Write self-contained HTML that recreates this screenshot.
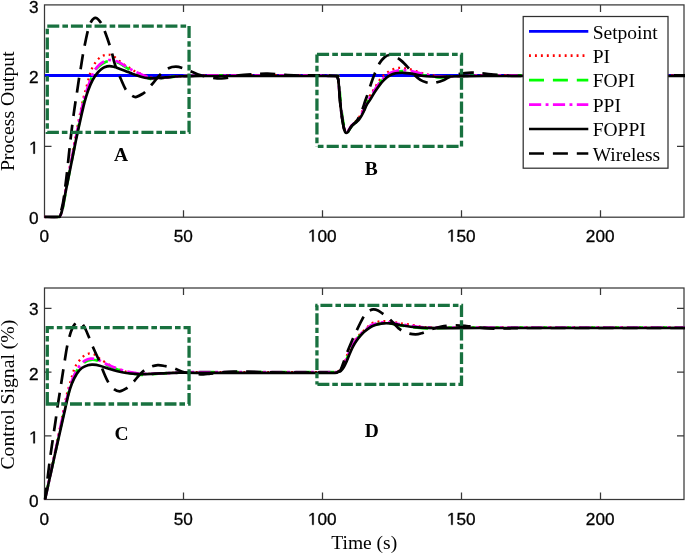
<!DOCTYPE html>
<html><head><meta charset="utf-8"><title>Chart</title>
<style>html,body{margin:0;padding:0;background:#fff}svg{display:block;will-change:transform;opacity:0.9999}text{fill:#000}</style></head>
<body>
<svg width="685" height="553" viewBox="0 0 685 553">
<defs><clipPath id="c1"><rect x="43.50" y="3.90" width="641.50" height="214.50"/></clipPath><clipPath id="c2"><rect x="43.50" y="287.00" width="641.50" height="213.70"/></clipPath></defs>
<rect width="685" height="553" fill="#fff"/>
<rect x="44.50" y="4.90" width="639.50" height="212.30" fill="none" stroke="#383838" stroke-width="1.25"/><path d="M183.50 217.20 v-7.00 M183.50 4.90 v7.00" stroke="#383838" stroke-width="1.25"/><path d="M322.50 217.20 v-7.00 M322.50 4.90 v7.00" stroke="#383838" stroke-width="1.25"/><path d="M461.50 217.20 v-7.00 M461.50 4.90 v7.00" stroke="#383838" stroke-width="1.25"/><path d="M600.50 217.20 v-7.00 M600.50 4.90 v7.00" stroke="#383838" stroke-width="1.25"/><path d="M44.50 146.43 h7.00 M684.00 146.43 h-7.00" stroke="#383838" stroke-width="1.25"/><path d="M44.50 75.66 h7.00 M684.00 75.66 h-7.00" stroke="#383838" stroke-width="1.25"/>
<g clip-path="url(#c1)">
<path d="M44.90 75.51 H686.00" stroke="#0000ff" stroke-width="3.0" fill="none"/>
<path d="M44.50 217.00 C46.80 217.00 55.78 217.10 58.30 217.00 C60.82 216.90 59.18 216.83 59.60 216.40 C60.02 215.97 60.37 215.70 60.80 214.40 C61.23 213.10 61.63 211.50 62.20 208.60 C62.77 205.70 63.43 201.27 64.20 197.00 C64.97 192.73 65.92 187.75 66.80 183.00 C67.68 178.25 68.60 173.33 69.50 168.50 C70.40 163.67 71.30 158.75 72.20 154.00 C73.10 149.25 74.03 144.50 74.90 140.00 C75.77 135.50 76.57 131.25 77.40 127.00 C78.23 122.75 78.92 119.28 79.90 114.50 C80.88 109.72 82.28 102.58 83.30 98.30 C84.32 94.02 84.98 92.53 86.00 88.80 C87.02 85.07 88.50 79.07 89.40 75.90 C90.30 72.73 90.60 71.72 91.40 69.80 C92.20 67.88 93.18 66.05 94.20 64.40 C95.22 62.75 96.15 61.30 97.50 59.90 C98.85 58.50 100.60 56.88 102.30 56.00 C104.00 55.12 105.90 54.60 107.70 54.60 C109.50 54.60 111.30 55.05 113.10 56.00 C114.90 56.95 116.68 58.90 118.50 60.30 C120.32 61.70 122.18 63.15 124.00 64.40 C125.82 65.65 127.32 66.52 129.40 67.80 C131.48 69.08 133.85 70.80 136.50 72.10 C139.15 73.40 143.12 74.75 145.30 75.60 C147.48 76.45 147.82 76.75 149.60 77.20 C151.38 77.65 153.27 78.25 156.00 78.30 C158.73 78.35 162.67 77.80 166.00 77.50 C169.33 77.20 172.33 76.77 176.00 76.50 C179.67 76.23 184.00 76.07 188.00 75.90 C192.00 75.73 193.00 75.60 200.00 75.50 C207.00 75.40 213.33 75.33 230.00 75.30 C246.67 75.27 282.45 75.18 300.00 75.30 C317.55 75.42 329.20 75.93 335.30 76.00 C341.40 76.07 336.22 75.52 336.60 75.70 C336.98 75.88 337.32 76.50 337.60 77.10 C337.88 77.70 338.05 77.43 338.30 79.30 C338.55 81.17 338.80 84.70 339.10 88.30 C339.40 91.90 339.72 96.90 340.10 100.90 C340.48 104.90 340.97 108.92 341.40 112.30 C341.83 115.68 342.28 118.67 342.70 121.20 C343.12 123.73 343.48 125.82 343.90 127.50 C344.32 129.18 344.77 130.50 345.20 131.30 C345.63 132.10 346.03 132.30 346.50 132.30 C346.97 132.30 347.48 131.93 348.00 131.30 C348.52 130.67 349.02 129.45 349.60 128.50 C350.18 127.55 350.75 126.50 351.50 125.60 C352.25 124.70 353.35 123.87 354.10 123.10 C354.85 122.33 355.30 121.77 356.00 121.00 C356.70 120.23 357.53 119.57 358.30 118.50 C359.07 117.43 359.82 116.10 360.60 114.60 C361.38 113.10 362.20 111.30 363.00 109.50 C363.80 107.70 364.63 105.40 365.40 103.80 C366.17 102.20 366.65 101.57 367.60 99.90 C368.55 98.23 369.93 95.78 371.10 93.80 C372.27 91.82 373.28 90.13 374.60 88.00 C375.92 85.87 377.53 83.07 379.00 81.00 C380.47 78.93 382.07 77.00 383.40 75.60 C384.73 74.20 385.73 73.50 387.00 72.60 C388.27 71.70 389.50 70.90 391.00 70.20 C392.50 69.50 394.33 68.80 396.00 68.40 C397.67 68.00 399.25 67.80 401.00 67.80 C402.75 67.80 404.67 68.07 406.50 68.40 C408.33 68.73 410.08 69.23 412.00 69.80 C413.92 70.37 416.00 71.17 418.00 71.80 C420.00 72.43 421.88 73.03 424.00 73.60 C426.12 74.17 428.03 74.77 430.70 75.20 C433.37 75.63 436.78 76.02 440.00 76.20 C443.22 76.38 445.83 76.33 450.00 76.30 C454.17 76.27 459.35 76.17 465.00 76.00 C470.65 75.83 468.07 75.42 483.90 75.30 C499.73 75.18 526.48 75.30 560.00 75.30 C593.52 75.30 664.17 75.30 685.00 75.30" fill="none" stroke="#ff0000" stroke-width="2.3" stroke-linejoin="round" stroke-linecap="butt" stroke-dasharray="1.9 4.05" stroke-dashoffset="0"/>
<path d="M44.90 217.00 C47.20 217.00 56.18 217.10 58.70 217.00 C61.22 216.90 59.58 216.82 60.00 216.40 C60.42 215.98 60.76 215.73 61.20 214.50 C61.64 213.27 62.06 211.85 62.65 209.00 C63.24 206.15 63.96 201.70 64.75 197.40 C65.54 193.10 66.49 187.98 67.40 183.20 C68.31 178.42 69.27 173.53 70.20 168.70 C71.13 163.87 72.07 158.98 73.00 154.20 C73.93 149.42 74.90 144.53 75.80 140.00 C76.70 135.47 77.42 131.87 78.40 127.00 C79.38 122.13 80.58 115.82 81.70 110.80 C82.82 105.78 83.63 101.92 85.10 96.90 C86.57 91.88 89.15 84.53 90.50 80.70 C91.85 76.87 92.30 75.83 93.20 73.90 C94.10 71.97 94.77 70.50 95.90 69.10 C97.03 67.70 98.65 66.55 100.00 65.50 C101.35 64.45 102.65 63.52 104.00 62.80 C105.35 62.08 106.73 61.43 108.10 61.20 C109.47 60.97 110.50 61.13 112.20 61.40 C113.90 61.67 116.50 62.12 118.30 62.80 C120.10 63.48 121.08 64.37 123.00 65.50 C124.92 66.63 127.48 68.28 129.80 69.60 C132.12 70.92 134.25 72.15 136.90 73.40 C139.55 74.65 143.45 76.18 145.70 77.10 C147.95 78.02 148.62 78.50 150.40 78.90 C152.18 79.30 153.73 79.73 156.40 79.50 C159.07 79.27 163.07 78.00 166.40 77.50 C169.73 77.00 172.73 76.77 176.40 76.50 C180.07 76.23 184.40 76.07 188.40 75.90 C192.40 75.73 193.40 75.60 200.40 75.50 C207.40 75.40 213.73 75.33 230.40 75.30 C247.07 75.27 282.85 75.18 300.40 75.30 C317.95 75.42 329.60 75.93 335.70 76.00 C341.80 76.07 336.62 75.52 337.00 75.70 C337.38 75.88 337.72 76.50 338.00 77.10 C338.28 77.70 338.45 77.43 338.70 79.30 C338.95 81.17 339.20 84.70 339.50 88.30 C339.80 91.90 340.12 96.90 340.50 100.90 C340.88 104.90 341.37 108.92 341.80 112.30 C342.23 115.68 342.68 118.67 343.10 121.20 C343.52 123.73 343.88 125.82 344.30 127.50 C344.72 129.18 345.17 130.50 345.60 131.30 C346.03 132.10 346.43 132.30 346.90 132.30 C347.37 132.30 347.88 131.93 348.40 131.30 C348.92 130.67 349.42 129.45 350.00 128.50 C350.58 127.55 351.15 126.50 351.90 125.60 C352.65 124.70 353.70 123.80 354.50 123.10 C355.30 122.40 355.93 122.10 356.70 121.40 C357.47 120.70 358.30 119.97 359.10 118.90 C359.90 117.83 360.68 116.50 361.50 115.00 C362.32 113.50 363.18 111.70 364.00 109.90 C364.82 108.10 365.57 105.87 366.40 104.20 C367.23 102.53 367.98 101.62 369.00 99.90 C370.02 98.18 371.33 95.82 372.50 93.90 C373.67 91.98 374.65 90.42 376.00 88.40 C377.35 86.38 379.07 83.73 380.60 81.80 C382.13 79.87 383.85 78.07 385.20 76.80 C386.55 75.53 387.50 74.77 388.70 74.20 C389.90 73.63 390.95 73.78 392.40 73.40 C393.85 73.02 395.73 72.27 397.40 71.90 C399.07 71.53 400.73 71.28 402.40 71.20 C404.07 71.12 405.65 71.22 407.40 71.40 C409.15 71.58 410.98 71.88 412.90 72.30 C414.82 72.72 416.90 73.37 418.90 73.90 C420.90 74.43 422.87 75.03 424.90 75.50 C426.93 75.97 428.52 76.37 431.10 76.70 C433.68 77.03 437.18 77.57 440.40 77.50 C443.62 77.43 446.23 76.55 450.40 76.30 C454.57 76.05 459.75 76.17 465.40 76.00 C471.05 75.83 468.47 75.42 484.30 75.30 C500.13 75.18 526.88 75.30 560.40 75.30 C593.92 75.30 664.57 75.30 685.40 75.30" fill="none" stroke="#00ff00" stroke-width="2.7" stroke-linejoin="round" stroke-linecap="butt" stroke-dasharray="15 8.9" stroke-dashoffset="0"/>
<path d="M44.50 217.00 C46.80 217.00 55.78 217.10 58.30 217.00 C60.82 216.90 59.18 216.82 59.60 216.40 C60.02 215.98 60.36 215.73 60.80 214.50 C61.24 213.27 61.66 211.85 62.25 209.00 C62.84 206.15 63.56 201.70 64.35 197.40 C65.14 193.10 66.09 187.98 67.00 183.20 C67.91 178.42 68.87 173.53 69.80 168.70 C70.73 163.87 71.67 158.98 72.60 154.20 C73.53 149.42 74.50 144.53 75.40 140.00 C76.30 135.47 77.02 131.87 78.00 127.00 C78.98 122.13 80.18 115.82 81.30 110.80 C82.42 105.78 83.23 101.92 84.70 96.90 C86.17 91.88 88.75 84.53 90.10 80.70 C91.45 76.87 91.90 75.83 92.80 73.90 C93.70 71.97 94.37 70.68 95.50 69.10 C96.63 67.52 98.25 65.63 99.60 64.40 C100.95 63.17 102.25 62.42 103.60 61.70 C104.95 60.98 106.33 60.33 107.70 60.10 C109.07 59.87 110.10 60.03 111.80 60.30 C113.50 60.57 116.10 61.02 117.90 61.70 C119.70 62.38 120.68 63.27 122.60 64.40 C124.52 65.53 127.08 67.18 129.40 68.50 C131.72 69.82 133.85 71.05 136.50 72.30 C139.15 73.55 143.05 75.08 145.30 76.00 C147.55 76.92 148.22 77.40 150.00 77.80 C151.78 78.20 153.33 78.45 156.00 78.40 C158.67 78.35 162.67 77.82 166.00 77.50 C169.33 77.18 172.33 76.77 176.00 76.50 C179.67 76.23 184.00 76.07 188.00 75.90 C192.00 75.73 193.00 75.60 200.00 75.50 C207.00 75.40 213.33 75.33 230.00 75.30 C246.67 75.27 282.45 75.18 300.00 75.30 C317.55 75.42 329.20 75.93 335.30 76.00 C341.40 76.07 336.22 75.52 336.60 75.70 C336.98 75.88 337.32 76.50 337.60 77.10 C337.88 77.70 338.05 77.43 338.30 79.30 C338.55 81.17 338.80 84.70 339.10 88.30 C339.40 91.90 339.72 96.90 340.10 100.90 C340.48 104.90 340.97 108.92 341.40 112.30 C341.83 115.68 342.28 118.67 342.70 121.20 C343.12 123.73 343.48 125.82 343.90 127.50 C344.32 129.18 344.77 130.50 345.20 131.30 C345.63 132.10 346.03 132.30 346.50 132.30 C346.97 132.30 347.48 131.93 348.00 131.30 C348.52 130.67 349.02 129.45 349.60 128.50 C350.18 127.55 350.75 126.50 351.50 125.60 C352.25 124.70 353.30 123.80 354.10 123.10 C354.90 122.40 355.53 122.10 356.30 121.40 C357.07 120.70 357.90 119.97 358.70 118.90 C359.50 117.83 360.28 116.50 361.10 115.00 C361.92 113.50 362.78 111.70 363.60 109.90 C364.42 108.10 365.17 105.87 366.00 104.20 C366.83 102.53 367.58 101.62 368.60 99.90 C369.62 98.18 370.93 95.82 372.10 93.90 C373.27 91.98 374.25 90.42 375.60 88.40 C376.95 86.38 378.67 83.73 380.20 81.80 C381.73 79.87 383.45 78.07 384.80 76.80 C386.15 75.53 387.10 74.95 388.30 74.20 C389.50 73.45 390.55 72.87 392.00 72.30 C393.45 71.73 395.33 71.17 397.00 70.80 C398.67 70.43 400.33 70.18 402.00 70.10 C403.67 70.02 405.25 70.12 407.00 70.30 C408.75 70.48 410.58 70.78 412.50 71.20 C414.42 71.62 416.50 72.27 418.50 72.80 C420.50 73.33 422.47 73.93 424.50 74.40 C426.53 74.87 428.12 75.27 430.70 75.60 C433.28 75.93 436.78 76.28 440.00 76.40 C443.22 76.52 445.83 76.37 450.00 76.30 C454.17 76.23 459.35 76.17 465.00 76.00 C470.65 75.83 468.07 75.42 483.90 75.30 C499.73 75.18 526.48 75.30 560.00 75.30 C593.52 75.30 664.17 75.30 685.00 75.30" fill="none" stroke="#ff00ff" stroke-width="2.7" stroke-linejoin="round" stroke-linecap="butt" stroke-dasharray="12.2 4.4 2.9 4.4" stroke-dashoffset="0"/>
<path d="M44.50 217.00 C46.80 217.00 55.78 217.10 58.30 217.00 C60.82 216.90 59.18 216.80 59.60 216.40 C60.02 216.00 60.35 215.77 60.80 214.60 C61.25 213.43 61.68 212.20 62.30 209.40 C62.92 206.60 63.67 202.13 64.50 197.80 C65.33 193.47 66.35 188.22 67.30 183.40 C68.25 178.58 69.23 173.72 70.20 168.90 C71.17 164.08 72.13 159.32 73.10 154.50 C74.07 149.68 75.05 144.58 76.00 140.00 C76.95 135.42 77.85 131.33 78.80 127.00 C79.75 122.67 80.73 118.20 81.70 114.00 C82.67 109.80 83.52 105.77 84.60 101.80 C85.68 97.83 86.87 93.82 88.20 90.20 C89.53 86.58 91.15 82.87 92.60 80.10 C94.05 77.33 95.47 75.40 96.90 73.60 C98.33 71.80 99.95 70.35 101.20 69.30 C102.45 68.25 103.02 67.83 104.40 67.30 C105.78 66.77 107.80 66.15 109.50 66.10 C111.20 66.05 113.38 66.73 114.60 67.00 C115.82 67.27 115.10 67.08 116.80 67.70 C118.50 68.32 122.00 69.60 124.80 70.70 C127.60 71.80 130.92 73.28 133.60 74.30 C136.28 75.32 138.47 76.15 140.90 76.80 C143.33 77.45 145.77 77.97 148.20 78.20 C150.63 78.43 152.58 78.33 155.50 78.20 C158.42 78.07 162.30 77.68 165.70 77.40 C169.10 77.12 172.25 76.70 175.90 76.50 C179.55 76.30 183.58 76.28 187.60 76.20 C191.62 76.12 192.93 76.03 200.00 76.00 C207.07 75.97 213.33 76.00 230.00 76.00 C246.67 76.00 282.45 76.00 300.00 76.00 C317.55 76.00 329.20 75.93 335.30 76.00 C341.40 76.07 336.22 76.10 336.60 76.40 C336.98 76.70 337.32 77.20 337.60 77.80 C337.88 78.40 338.05 78.13 338.30 80.00 C338.55 81.87 338.80 85.40 339.10 89.00 C339.40 92.60 339.72 97.60 340.10 101.60 C340.48 105.60 340.97 109.62 341.40 113.00 C341.83 116.38 342.28 119.37 342.70 121.90 C343.12 124.43 343.48 126.52 343.90 128.20 C344.32 129.88 344.77 131.20 345.20 132.00 C345.63 132.80 346.03 133.00 346.50 133.00 C346.97 133.00 347.48 132.63 348.00 132.00 C348.52 131.37 349.02 130.15 349.60 129.20 C350.18 128.25 350.75 127.20 351.50 126.30 C352.25 125.40 353.25 124.53 354.10 123.80 C354.95 123.07 355.77 122.63 356.60 121.90 C357.43 121.17 358.27 120.45 359.10 119.40 C359.93 118.35 360.75 117.08 361.60 115.60 C362.45 114.12 363.35 112.30 364.20 110.50 C365.05 108.70 365.73 106.57 366.70 104.80 C367.67 103.03 368.87 101.70 370.00 99.90 C371.13 98.10 372.33 95.85 373.50 94.00 C374.67 92.15 375.63 90.73 377.00 88.80 C378.37 86.87 380.13 84.25 381.70 82.40 C383.27 80.55 385.03 78.87 386.40 77.70 C387.77 76.53 388.73 76.03 389.90 75.40 C391.07 74.77 392.05 74.30 393.40 73.90 C394.75 73.50 396.25 73.18 398.00 73.00 C399.75 72.82 401.95 72.73 403.90 72.80 C405.85 72.87 407.57 73.07 409.70 73.40 C411.83 73.73 414.37 74.37 416.70 74.80 C419.03 75.23 421.37 75.72 423.70 76.00 C426.03 76.28 427.98 76.37 430.70 76.50 C433.42 76.63 436.78 76.80 440.00 76.80 C443.22 76.80 445.83 76.60 450.00 76.50 C454.17 76.40 459.35 76.28 465.00 76.20 C470.65 76.12 468.07 76.03 483.90 76.00 C499.73 75.97 526.48 76.00 560.00 76.00 C593.52 76.00 664.17 76.00 685.00 76.00" fill="none" stroke="#000" stroke-width="2.7" stroke-linejoin="round" stroke-linecap="butt"/>
<path id='wl1a' d="M44.50 217.00 C46.80 217.00 55.82 217.10 58.30 217.00 C60.78 216.90 59.07 216.80 59.40 216.40 C59.73 216.00 59.93 215.83 60.30 214.60 C60.67 213.37 61.07 211.43 61.60 209.00 C62.13 206.57 62.70 205.23 63.50 200.00 C64.30 194.77 65.50 185.18 66.40 177.60 C67.30 170.02 68.18 161.12 68.90 154.50 C69.62 147.88 70.13 142.83 70.70 137.90 C71.27 132.97 71.78 128.98 72.30 124.90 C72.82 120.82 73.25 117.38 73.80 113.40 C74.35 109.42 75.03 104.73 75.60 101.00 C76.17 97.27 76.60 94.97 77.20 91.00 C77.80 87.03 78.60 81.05 79.20 77.20 C79.80 73.35 80.17 71.73 80.80 67.90 C81.43 64.07 82.33 58.05 83.00 54.20 C83.67 50.35 84.00 48.65 84.80 44.80 C85.60 40.95 86.75 34.95 87.80 31.10 C88.85 27.25 89.80 23.92 91.10 21.70 C92.40 19.48 93.92 17.57 95.60 17.80 C97.28 18.03 99.55 20.53 101.20 23.10 C102.85 25.67 104.03 29.35 105.50 33.20 C106.97 37.05 108.85 42.63 110.00 46.20 C111.15 49.77 111.63 51.73 112.40 54.60 C113.17 57.47 113.27 59.50 114.60 63.40 C115.93 67.30 118.45 73.50 120.40 78.00 C122.35 82.50 124.23 87.37 126.30 90.40 C128.37 93.43 131.10 95.12 132.80 96.20 C134.50 97.28 134.92 97.27 136.50 96.90 C138.08 96.53 140.72 94.97 142.30 94.00 C143.88 93.03 144.42 92.68 146.00 91.10 C147.58 89.52 149.37 87.30 151.80 84.50 C154.23 81.70 157.80 77.02 160.60 74.30 C163.40 71.58 166.05 69.47 168.60 68.20 C171.15 66.93 173.47 66.70 175.90 66.70 C178.33 66.70 180.65 67.42 183.20 68.20 C185.75 68.98 188.40 70.27 191.20 71.40 C194.00 72.53 196.87 73.98 200.00 75.00 C203.13 76.02 206.40 76.92 210.00 77.50 C213.60 78.08 217.93 78.58 221.60 78.50 C225.27 78.42 229.10 77.53 232.00 77.00 C234.90 76.47 235.67 75.77 239.00 75.30 C242.33 74.83 247.23 74.48 252.00 74.20 C256.77 73.92 262.10 73.50 267.60 73.60 C273.10 73.70 279.60 74.48 285.00 74.80 C290.40 75.12 294.17 75.42 300.00 75.50 C305.83 75.58 316.67 75.33 320.00 75.30" fill="none" stroke="#000" stroke-width="2.7" stroke-linejoin="round" stroke-linecap="butt" stroke-dasharray="14.9 8.85" stroke-dashoffset="1.5"/>
<path id='wl1b' d="M320.00 75.30 C322.55 75.42 332.53 75.82 335.30 76.00 C338.07 76.18 336.22 76.10 336.60 76.40 C336.98 76.70 337.32 77.20 337.60 77.80 C337.88 78.40 338.05 78.13 338.30 80.00 C338.55 81.87 338.80 85.40 339.10 89.00 C339.40 92.60 339.72 97.60 340.10 101.60 C340.48 105.60 340.97 109.62 341.40 113.00 C341.83 116.38 342.28 119.37 342.70 121.90 C343.12 124.43 343.48 126.52 343.90 128.20 C344.32 129.88 344.77 131.20 345.20 132.00 C345.63 132.80 346.03 133.00 346.50 133.00 C346.97 133.00 347.48 132.63 348.00 132.00 C348.52 131.37 349.02 130.15 349.60 129.20 C350.18 128.25 350.75 127.20 351.50 126.30 C352.25 125.40 353.25 124.68 354.10 123.80 C354.95 122.92 355.78 122.13 356.60 121.00 C357.42 119.87 358.27 118.42 359.00 117.00 C359.73 115.58 360.35 114.00 361.00 112.50 C361.65 111.00 362.23 109.83 362.90 108.00 C363.57 106.17 364.27 103.62 365.00 101.50 C365.73 99.38 366.42 97.92 367.30 95.30 C368.18 92.68 369.43 88.43 370.30 85.80 C371.17 83.17 371.73 81.60 372.50 79.50 C373.27 77.40 373.73 75.90 374.90 73.20 C376.07 70.50 377.92 65.93 379.50 63.30 C381.08 60.67 382.77 58.78 384.40 57.40 C386.03 56.02 387.45 55.08 389.30 55.00 C391.15 54.92 393.47 55.92 395.50 56.90 C397.53 57.88 399.42 59.13 401.50 60.90 C403.58 62.67 405.82 65.13 408.00 67.50 C410.18 69.87 412.55 73.03 414.60 75.10 C416.65 77.17 418.40 78.70 420.30 79.90 C422.20 81.10 424.30 81.78 426.00 82.30 C427.70 82.82 428.92 82.93 430.50 83.00 C432.08 83.07 433.25 83.22 435.50 82.70 C437.75 82.18 441.63 80.85 444.00 79.90 C446.37 78.95 447.32 77.95 449.70 77.00 C452.08 76.05 454.67 74.93 458.30 74.20 C461.93 73.47 467.72 72.77 471.50 72.60 C475.28 72.43 476.42 72.78 481.00 73.20 C485.58 73.62 493.33 74.63 499.00 75.10 C504.67 75.57 509.83 75.93 515.00 76.00 C520.17 76.07 522.50 75.62 530.00 75.50 C537.50 75.38 534.17 75.33 560.00 75.30 C585.83 75.27 664.17 75.30 685.00 75.30" fill="none" stroke="#000" stroke-width="2.7" stroke-linejoin="round" stroke-linecap="butt" stroke-dasharray="15 8.9" stroke-dashoffset="15.0"/>
<path d="M47.28 26.12 H189.06 V132.28 H47.28 Z" fill="none" stroke="#18713f" stroke-width="3.3" stroke-dasharray="12.00 3.10 5.60 2.93" stroke-dashoffset="0" stroke-linejoin="miter"/>
<path d="M315.29 54.43 H461.50 V146.43 H315.29" fill="none" stroke="#18713f" stroke-width="3.3" stroke-dasharray="12.16 3.14 5.68 2.97" stroke-dashoffset="-1.65" stroke-linejoin="miter"/><path d="M316.94 146.43 V54.43" fill="none" stroke="#18713f" stroke-width="3.3" stroke-dasharray="12.14 3.14 5.66 2.96" stroke-dashoffset="12.0"/>
</g>
<rect x="44.50" y="288.00" width="639.50" height="211.50" fill="none" stroke="#383838" stroke-width="1.25"/><path d="M183.50 499.50 v-7.00 M183.50 288.00 v7.00" stroke="#383838" stroke-width="1.25"/><path d="M322.50 499.50 v-7.00 M322.50 288.00 v7.00" stroke="#383838" stroke-width="1.25"/><path d="M461.50 499.50 v-7.00 M461.50 288.00 v7.00" stroke="#383838" stroke-width="1.25"/><path d="M600.50 499.50 v-7.00 M600.50 288.00 v7.00" stroke="#383838" stroke-width="1.25"/><path d="M44.50 435.82 h7.00 M684.00 435.82 h-7.00" stroke="#383838" stroke-width="1.25"/><path d="M44.50 372.14 h7.00 M684.00 372.14 h-7.00" stroke="#383838" stroke-width="1.25"/><path d="M44.50 308.46 h7.00 M684.00 308.46 h-7.00" stroke="#383838" stroke-width="1.25"/>
<g clip-path="url(#c2)">
<path d="M45.00 499.50 C45.83 495.63 48.43 483.72 50.00 476.30 C51.57 468.88 52.97 461.97 54.40 455.00 C55.83 448.03 57.22 441.25 58.60 434.50 C59.98 427.75 61.35 421.08 62.70 414.50 C64.05 407.92 65.50 400.15 66.70 395.00 C67.90 389.85 68.88 387.18 69.90 383.60 C70.92 380.02 71.82 376.48 72.80 373.50 C73.78 370.52 74.30 368.33 75.80 365.70 C77.30 363.07 79.80 359.68 81.80 357.70 C83.80 355.72 85.80 354.38 87.80 353.80 C89.80 353.22 91.82 353.38 93.80 354.20 C95.78 355.02 97.20 356.98 99.70 358.70 C102.20 360.42 105.83 362.80 108.80 364.50 C111.77 366.20 114.58 367.68 117.50 368.90 C120.42 370.12 123.38 371.08 126.30 371.80 C129.22 372.52 132.08 372.83 135.00 373.20 C137.92 373.57 139.42 373.97 143.80 374.00 C148.18 374.03 155.47 373.62 161.30 373.40 C167.13 373.18 172.95 372.91 178.80 372.70 C184.65 372.49 184.53 372.24 196.40 372.15 C208.27 372.06 229.40 372.15 250.00 372.15 C270.60 372.15 305.83 372.15 320.00 372.15 C334.17 372.15 332.02 372.17 335.00 372.15 C337.98 372.12 337.27 372.21 337.90 372.00 C338.53 371.79 338.17 371.68 338.80 370.90 C339.43 370.12 340.73 368.87 341.70 367.30 C342.67 365.73 343.63 363.68 344.60 361.50 C345.57 359.32 346.42 356.73 347.50 354.20 C348.58 351.67 349.90 348.58 351.10 346.30 C352.30 344.02 353.50 342.23 354.70 340.50 C355.90 338.77 357.10 337.30 358.30 335.90 C359.50 334.50 360.57 333.32 361.90 332.10 C363.23 330.88 364.85 329.97 366.30 328.60 C367.75 327.23 368.92 325.00 370.60 323.90 C372.28 322.80 374.47 322.45 376.40 322.00 C378.33 321.55 380.27 321.32 382.20 321.20 C384.13 321.08 386.07 321.15 388.00 321.30 C389.93 321.45 391.63 321.75 393.80 322.10 C395.97 322.45 397.80 322.90 401.00 323.40 C404.20 323.90 408.72 324.43 413.00 325.10 C417.28 325.77 420.70 326.97 426.70 327.40 C432.70 327.83 440.12 327.68 449.00 327.70 C457.88 327.72 440.67 327.53 480.00 327.50 C519.33 327.47 650.83 327.50 685.00 327.50" fill="none" stroke="#ff0000" stroke-width="2.3" stroke-linejoin="round" stroke-linecap="butt" stroke-dasharray="1.9 4.05" stroke-dashoffset="0"/>
<path d="M45.00 499.50 C45.83 495.68 48.37 484.02 50.00 476.60 C51.63 469.18 53.28 462.02 54.80 455.00 C56.32 447.98 57.65 441.25 59.10 434.50 C60.55 427.75 62.07 420.83 63.50 414.50 C64.93 408.17 66.40 401.65 67.70 396.50 C69.00 391.35 69.95 387.60 71.30 383.60 C72.65 379.60 74.32 375.30 75.80 372.50 C77.28 369.70 78.63 368.58 80.20 366.80 C81.77 365.02 83.37 362.97 85.20 361.80 C87.03 360.63 89.05 359.97 91.20 359.80 C93.35 359.63 95.62 359.97 98.10 360.80 C100.58 361.63 103.10 363.43 106.10 364.80 C109.10 366.17 112.67 367.72 116.10 369.00 C119.53 370.28 123.48 371.67 126.70 372.50 C129.92 373.33 132.48 373.58 135.40 374.00 C138.32 374.42 139.82 375.10 144.20 375.00 C148.58 374.90 155.87 373.78 161.70 373.40 C167.53 373.02 173.35 372.91 179.20 372.70 C185.05 372.49 184.93 372.24 196.80 372.15 C208.67 372.06 229.80 372.15 250.40 372.15 C271.00 372.15 306.23 372.15 320.40 372.15 C334.57 372.15 332.42 372.17 335.40 372.15 C338.38 372.12 337.53 372.21 338.30 372.00 C339.07 371.79 339.23 371.68 340.00 370.90 C340.77 370.12 341.93 368.87 342.90 367.30 C343.87 365.73 344.83 363.68 345.80 361.50 C346.77 359.32 347.62 356.73 348.70 354.20 C349.78 351.67 351.10 348.58 352.30 346.30 C353.50 344.02 354.70 342.23 355.90 340.50 C357.10 338.77 358.30 337.30 359.50 335.90 C360.70 334.50 361.77 333.32 363.10 332.10 C364.43 330.88 366.05 329.78 367.50 328.60 C368.95 327.42 370.12 325.73 371.80 325.00 C373.48 324.27 375.67 324.47 377.60 324.20 C379.53 323.93 381.47 323.52 383.40 323.40 C385.33 323.28 387.27 323.35 389.20 323.50 C391.13 323.65 392.83 323.95 395.00 324.30 C397.17 324.65 399.00 325.10 402.20 325.60 C405.40 326.10 410.05 326.82 414.20 327.30 C418.35 327.78 421.23 328.43 427.10 328.50 C432.97 328.57 440.52 327.87 449.40 327.70 C458.28 327.53 441.07 327.53 480.40 327.50 C519.73 327.47 651.23 327.50 685.40 327.50" fill="none" stroke="#00ff00" stroke-width="2.7" stroke-linejoin="round" stroke-linecap="butt" stroke-dasharray="15 8.9" stroke-dashoffset="0"/>
<path d="M45.00 499.50 C45.83 495.67 48.40 483.92 50.00 476.50 C51.60 469.08 53.12 462.00 54.60 455.00 C56.08 448.00 57.47 441.25 58.90 434.50 C60.33 427.75 61.80 420.83 63.20 414.50 C64.60 408.17 66.02 401.65 67.30 396.50 C68.58 391.35 69.55 387.60 70.90 383.60 C72.25 379.60 73.92 375.48 75.40 372.50 C76.88 369.52 78.23 367.67 79.80 365.70 C81.37 363.73 82.97 361.87 84.80 360.70 C86.63 359.53 88.65 358.87 90.80 358.70 C92.95 358.53 95.22 358.87 97.70 359.70 C100.18 360.53 102.70 362.33 105.70 363.70 C108.70 365.07 112.27 366.62 115.70 367.90 C119.13 369.18 123.08 370.57 126.30 371.40 C129.52 372.23 132.08 372.48 135.00 372.90 C137.92 373.32 139.42 373.82 143.80 373.90 C148.18 373.98 155.47 373.60 161.30 373.40 C167.13 373.20 172.95 372.91 178.80 372.70 C184.65 372.49 184.53 372.24 196.40 372.15 C208.27 372.06 229.40 372.15 250.00 372.15 C270.60 372.15 305.83 372.15 320.00 372.15 C334.17 372.15 332.02 372.17 335.00 372.15 C337.98 372.12 337.13 372.21 337.90 372.00 C338.67 371.79 338.83 371.68 339.60 370.90 C340.37 370.12 341.53 368.87 342.50 367.30 C343.47 365.73 344.43 363.68 345.40 361.50 C346.37 359.32 347.22 356.73 348.30 354.20 C349.38 351.67 350.70 348.58 351.90 346.30 C353.10 344.02 354.30 342.23 355.50 340.50 C356.70 338.77 357.90 337.30 359.10 335.90 C360.30 334.50 361.37 333.32 362.70 332.10 C364.03 330.88 365.65 329.78 367.10 328.60 C368.55 327.42 369.72 325.92 371.40 325.00 C373.08 324.08 375.27 323.55 377.20 323.10 C379.13 322.65 381.07 322.42 383.00 322.30 C384.93 322.18 386.87 322.25 388.80 322.40 C390.73 322.55 392.43 322.85 394.60 323.20 C396.77 323.55 398.60 324.00 401.80 324.50 C405.00 325.00 409.65 325.72 413.80 326.20 C417.95 326.68 420.83 327.15 426.70 327.40 C432.57 327.65 440.12 327.68 449.00 327.70 C457.88 327.72 440.67 327.53 480.00 327.50 C519.33 327.47 650.83 327.50 685.00 327.50" fill="none" stroke="#ff00ff" stroke-width="2.7" stroke-linejoin="round" stroke-linecap="butt" stroke-dasharray="12.2 4.4 2.9 4.4" stroke-dashoffset="0"/>
<path d="M45.00 499.50 C45.83 495.72 48.37 484.22 50.00 476.80 C51.63 469.38 53.23 462.05 54.80 455.00 C56.37 447.95 57.88 441.25 59.40 434.50 C60.92 427.75 62.42 421.08 63.90 414.50 C65.38 407.92 66.97 400.15 68.30 395.00 C69.63 389.85 70.48 387.15 71.90 383.60 C73.32 380.05 75.15 376.30 76.80 373.70 C78.45 371.10 79.97 369.42 81.80 368.00 C83.63 366.58 85.97 365.75 87.80 365.20 C89.63 364.65 90.82 364.62 92.80 364.70 C94.78 364.78 97.03 365.03 99.70 365.70 C102.37 366.37 105.83 367.78 108.80 368.70 C111.77 369.62 114.58 370.48 117.50 371.20 C120.42 371.92 123.38 372.55 126.30 373.00 C129.22 373.45 132.08 373.72 135.00 373.90 C137.92 374.08 139.42 374.18 143.80 374.10 C148.18 374.02 155.47 373.63 161.30 373.40 C167.13 373.17 172.95 372.79 178.80 372.70 C184.65 372.61 184.53 372.83 196.40 372.85 C208.27 372.88 229.40 372.85 250.00 372.85 C270.60 372.85 305.83 372.85 320.00 372.85 C334.17 372.85 332.02 372.99 335.00 372.85 C337.98 372.71 336.93 372.32 337.90 372.00 C338.87 371.68 339.83 371.68 340.80 370.90 C341.77 370.12 342.73 368.87 343.70 367.30 C344.67 365.73 345.63 363.68 346.60 361.50 C347.57 359.32 348.42 356.73 349.50 354.20 C350.58 351.67 351.90 348.58 353.10 346.30 C354.30 344.02 355.50 342.23 356.70 340.50 C357.90 338.77 359.10 337.30 360.30 335.90 C361.50 334.50 362.57 333.32 363.90 332.10 C365.23 330.88 366.85 329.62 368.30 328.60 C369.75 327.58 370.92 326.75 372.60 326.00 C374.28 325.25 376.47 324.55 378.40 324.10 C380.33 323.65 382.27 323.42 384.20 323.30 C386.13 323.18 388.07 323.25 390.00 323.40 C391.93 323.55 393.63 323.85 395.80 324.20 C397.97 324.55 399.80 325.00 403.00 325.50 C406.20 326.00 411.05 326.80 415.00 327.20 C418.95 327.60 421.03 327.73 426.70 327.90 C432.37 328.07 440.12 328.18 449.00 328.20 C457.88 328.22 440.67 328.03 480.00 328.00 C519.33 327.97 650.83 328.00 685.00 328.00" fill="none" stroke="#000" stroke-width="2.7" stroke-linejoin="round" stroke-linecap="butt"/>
<path id='wl2a' d="M45.00 499.50 C45.75 493.35 48.23 472.40 49.50 462.60 C50.77 452.80 51.62 447.47 52.60 440.70 C53.58 433.93 54.58 427.63 55.40 422.00 C56.22 416.37 56.83 411.40 57.50 406.90 C58.17 402.40 58.78 398.90 59.40 395.00 C60.02 391.10 60.60 387.38 61.20 383.50 C61.80 379.62 62.38 375.67 63.00 371.70 C63.62 367.73 64.25 363.73 64.90 359.70 C65.55 355.67 66.15 351.32 66.90 347.50 C67.65 343.68 68.57 339.83 69.40 336.80 C70.23 333.77 71.00 331.40 71.90 329.30 C72.80 327.20 73.78 325.42 74.80 324.20 C75.82 322.98 76.80 322.10 78.00 322.00 C79.20 321.90 80.77 322.43 82.00 323.60 C83.23 324.77 84.27 326.80 85.40 329.00 C86.53 331.20 87.57 333.83 88.80 336.80 C90.03 339.77 91.15 342.98 92.80 346.80 C94.45 350.62 97.20 356.22 98.70 359.70 C100.20 363.18 100.35 364.22 101.80 367.70 C103.25 371.18 105.52 377.15 107.40 380.60 C109.28 384.05 111.08 386.62 113.10 388.40 C115.12 390.18 117.30 391.30 119.50 391.30 C121.70 391.30 124.00 389.93 126.30 388.40 C128.60 386.87 130.68 384.80 133.30 382.10 C135.92 379.40 139.08 374.73 142.00 372.20 C144.92 369.67 148.17 368.08 150.80 366.90 C153.43 365.72 155.47 365.25 157.80 365.10 C160.13 364.95 162.17 365.50 164.80 366.00 C167.43 366.50 170.38 367.07 173.60 368.10 C176.82 369.13 180.45 371.23 184.10 372.20 C187.75 373.17 192.28 373.53 195.50 373.90 C198.72 374.27 200.92 374.45 203.40 374.40 C205.88 374.35 207.30 373.93 210.40 373.60 C213.50 373.27 218.07 372.73 222.00 372.40 C225.93 372.07 230.00 371.75 234.00 371.60 C238.00 371.45 241.33 371.40 246.00 371.50 C250.67 371.60 256.33 372.02 262.00 372.20 C267.67 372.38 270.33 372.55 280.00 372.60 C289.67 372.65 313.33 372.52 320.00 372.50" fill="none" stroke="#000" stroke-width="2.7" stroke-linejoin="round" stroke-linecap="butt" stroke-dasharray="15 8.9" stroke-dashoffset="2.9"/>
<path id='wl2b' d="M320.00 372.50 C322.50 372.50 332.13 372.55 335.00 372.50 C337.87 372.45 336.53 372.38 337.20 372.20 C337.87 372.02 338.40 371.83 339.00 371.40 C339.60 370.97 340.05 371.08 340.80 369.60 C341.55 368.12 342.42 365.42 343.50 362.50 C344.58 359.58 345.70 356.13 347.30 352.10 C348.90 348.07 351.53 341.92 353.10 338.30 C354.67 334.68 355.02 333.88 356.70 330.40 C358.38 326.92 361.60 320.27 363.20 317.40 C364.80 314.53 365.33 314.28 366.30 313.20 C367.27 312.12 367.83 311.53 369.00 310.90 C370.17 310.27 371.80 309.47 373.30 309.40 C374.80 309.33 376.43 309.78 378.00 310.50 C379.57 311.22 380.82 312.32 382.70 313.70 C384.58 315.08 386.52 316.27 389.30 318.80 C392.08 321.33 396.40 326.53 399.40 328.90 C402.40 331.27 404.62 332.08 407.30 333.00 C409.98 333.92 413.10 334.37 415.50 334.40 C417.90 334.43 419.02 334.05 421.70 333.20 C424.38 332.35 428.30 330.42 431.60 329.30 C434.90 328.18 437.77 327.17 441.50 326.50 C445.23 325.83 449.85 325.38 454.00 325.30 C458.15 325.22 462.07 325.62 466.40 326.00 C470.73 326.38 475.23 327.17 480.00 327.60 C484.77 328.03 490.00 328.48 495.00 328.60 C500.00 328.72 504.17 328.40 510.00 328.30 C515.83 328.20 500.83 328.05 530.00 328.00 C559.17 327.95 659.17 328.00 685.00 328.00" fill="none" stroke="#000" stroke-width="2.7" stroke-linejoin="round" stroke-linecap="butt" stroke-dasharray="15 8.9" stroke-dashoffset="7.2"/>
<path d="M47.28 403.98 V327.56 H189.06 V403.98 Z" fill="none" stroke="#18713f" stroke-width="3.3" stroke-dasharray="12.00 3.10 5.60 2.93" stroke-dashoffset="0" stroke-linejoin="miter"/>
<path d="M315.29 305.28 H461.50 V384.43 H315.29" fill="none" stroke="#18713f" stroke-width="3.3" stroke-dasharray="11.93 3.08 5.57 2.91" stroke-dashoffset="18.35" stroke-linejoin="miter"/><path d="M316.94 384.43 V305.28" fill="none" stroke="#18713f" stroke-width="3.3" stroke-dasharray="11.48 2.96 5.36 2.80" stroke-dashoffset="8.2"/>
</g>
<text x="29.034" y="13.29" font-family="Liberation Sans, sans-serif" font-size="17.2" stroke="#000" stroke-width="0.3">3</text>
<text x="29.034" y="82.96" font-family="Liberation Sans, sans-serif" font-size="17.2" stroke="#000" stroke-width="0.3">2</text>
<path transform="translate(29.034 153.63) scale(0.008398 -0.008398)" d="M515 0V1237L197 1010V1180L530 1409H696V0Z" fill="#000" stroke="#000" stroke-width="35.7"/>
<text x="29.034" y="224.00" font-family="Liberation Sans, sans-serif" font-size="17.2" stroke="#000" stroke-width="0.3">0</text>
<text x="29.034" y="315.46" font-family="Liberation Sans, sans-serif" font-size="17.2" stroke="#000" stroke-width="0.3">3</text>
<text x="29.034" y="379.54" font-family="Liberation Sans, sans-serif" font-size="17.2" stroke="#000" stroke-width="0.3">2</text>
<path transform="translate(29.034 443.32) scale(0.008398 -0.008398)" d="M515 0V1237L197 1010V1180L530 1409H696V0Z" fill="#000" stroke="#000" stroke-width="35.7"/>
<text x="29.034" y="507.00" font-family="Liberation Sans, sans-serif" font-size="17.2" stroke="#000" stroke-width="0.3">0</text>
<text x="39.417" y="241.60" font-family="Liberation Sans, sans-serif" font-size="17.2" stroke="#000" stroke-width="0.3">0</text>
<text x="39.417" y="524.80" font-family="Liberation Sans, sans-serif" font-size="17.2" stroke="#000" stroke-width="0.3">0</text>
<text x="173.634" y="241.60" font-family="Liberation Sans, sans-serif" font-size="17.2" stroke="#000" stroke-width="0.3">5</text><text x="183.200" y="241.60" font-family="Liberation Sans, sans-serif" font-size="17.2" stroke="#000" stroke-width="0.3">0</text>
<text x="173.634" y="524.80" font-family="Liberation Sans, sans-serif" font-size="17.2" stroke="#000" stroke-width="0.3">5</text><text x="183.200" y="524.80" font-family="Liberation Sans, sans-serif" font-size="17.2" stroke="#000" stroke-width="0.3">0</text>
<path transform="translate(307.851 241.60) scale(0.008398 -0.008398)" d="M515 0V1237L197 1010V1180L530 1409H696V0Z" fill="#000" stroke="#000" stroke-width="35.7"/><text x="317.417" y="241.60" font-family="Liberation Sans, sans-serif" font-size="17.2" stroke="#000" stroke-width="0.3">0</text><text x="326.983" y="241.60" font-family="Liberation Sans, sans-serif" font-size="17.2" stroke="#000" stroke-width="0.3">0</text>
<path transform="translate(307.851 524.80) scale(0.008398 -0.008398)" d="M515 0V1237L197 1010V1180L530 1409H696V0Z" fill="#000" stroke="#000" stroke-width="35.7"/><text x="317.417" y="524.80" font-family="Liberation Sans, sans-serif" font-size="17.2" stroke="#000" stroke-width="0.3">0</text><text x="326.983" y="524.80" font-family="Liberation Sans, sans-serif" font-size="17.2" stroke="#000" stroke-width="0.3">0</text>
<path transform="translate(446.851 241.60) scale(0.008398 -0.008398)" d="M515 0V1237L197 1010V1180L530 1409H696V0Z" fill="#000" stroke="#000" stroke-width="35.7"/><text x="456.417" y="241.60" font-family="Liberation Sans, sans-serif" font-size="17.2" stroke="#000" stroke-width="0.3">5</text><text x="465.983" y="241.60" font-family="Liberation Sans, sans-serif" font-size="17.2" stroke="#000" stroke-width="0.3">0</text>
<path transform="translate(446.851 524.80) scale(0.008398 -0.008398)" d="M515 0V1237L197 1010V1180L530 1409H696V0Z" fill="#000" stroke="#000" stroke-width="35.7"/><text x="456.417" y="524.80" font-family="Liberation Sans, sans-serif" font-size="17.2" stroke="#000" stroke-width="0.3">5</text><text x="465.983" y="524.80" font-family="Liberation Sans, sans-serif" font-size="17.2" stroke="#000" stroke-width="0.3">0</text>
<text x="585.851" y="241.60" font-family="Liberation Sans, sans-serif" font-size="17.2" stroke="#000" stroke-width="0.3">2</text><text x="595.417" y="241.60" font-family="Liberation Sans, sans-serif" font-size="17.2" stroke="#000" stroke-width="0.3">0</text><text x="604.983" y="241.60" font-family="Liberation Sans, sans-serif" font-size="17.2" stroke="#000" stroke-width="0.3">0</text>
<text x="585.851" y="524.80" font-family="Liberation Sans, sans-serif" font-size="17.2" stroke="#000" stroke-width="0.3">2</text><text x="595.417" y="524.80" font-family="Liberation Sans, sans-serif" font-size="17.2" stroke="#000" stroke-width="0.3">0</text><text x="604.983" y="524.80" font-family="Liberation Sans, sans-serif" font-size="17.2" stroke="#000" stroke-width="0.3">0</text>
<text transform="translate(14.2 111.2) rotate(-90)" text-anchor="middle" font-family="Liberation Serif, serif" font-size="19.7">Process Output</text>
<text transform="translate(14.2 394.6) rotate(-90)" text-anchor="middle" font-family="Liberation Serif, serif" font-size="19.7">Control Signal (%)</text>
<text x="364.2" y="549.3" text-anchor="middle" font-family="Liberation Serif, serif" font-size="19.5">Time (s)</text>
<text x="114" y="160.8" font-family="Liberation Serif, serif" font-size="19.5" font-weight="bold">A</text>
<text x="364.7" y="174.8" font-family="Liberation Serif, serif" font-size="19.5" font-weight="bold">B</text>
<text x="114.5" y="440.4" font-family="Liberation Serif, serif" font-size="19.5" font-weight="bold">C</text>
<text x="364.7" y="436.9" font-family="Liberation Serif, serif" font-size="19.5" font-weight="bold">D</text>
<rect x="523.2" y="16.5" width="144.8" height="151.7" fill="#fff" stroke="#303030" stroke-width="1.25"/>
<path d="M529 31.30 H588.3" stroke="#0000ff" stroke-width="2.7" fill="none"/>
<text x="592.7" y="38.50" font-family="Liberation Serif, serif" font-size="19.5">Setpoint</text>
<path d="M529 55.70 H588.3" stroke="#ff0000" stroke-width="2.7" fill="none" stroke-dasharray="1.9 4.05"/>
<text x="592.7" y="62.90" font-family="Liberation Serif, serif" font-size="19.5">PI</text>
<path d="M529 80.20 H588.3" stroke="#00ff00" stroke-width="2.7" fill="none" stroke-dasharray="15 8.9"/>
<text x="592.7" y="87.40" font-family="Liberation Serif, serif" font-size="19.5">FOPI</text>
<path d="M529 104.60 H588.3" stroke="#ff00ff" stroke-width="2.7" fill="none" stroke-dasharray="12.2 4.4 2.9 4.4"/>
<text x="592.7" y="111.80" font-family="Liberation Serif, serif" font-size="19.5">PPI</text>
<path d="M529 129.00 H588.3" stroke="#000" stroke-width="2.7" fill="none"/>
<text x="592.7" y="136.20" font-family="Liberation Serif, serif" font-size="19.5">FOPPI</text>
<path d="M529 153.50 H588.3" stroke="#000" stroke-width="2.7" fill="none" stroke-dasharray="15 8.9"/>
<text x="592.7" y="160.70" font-family="Liberation Serif, serif" font-size="19.5">Wireless</text>
</svg>
</body></html>
